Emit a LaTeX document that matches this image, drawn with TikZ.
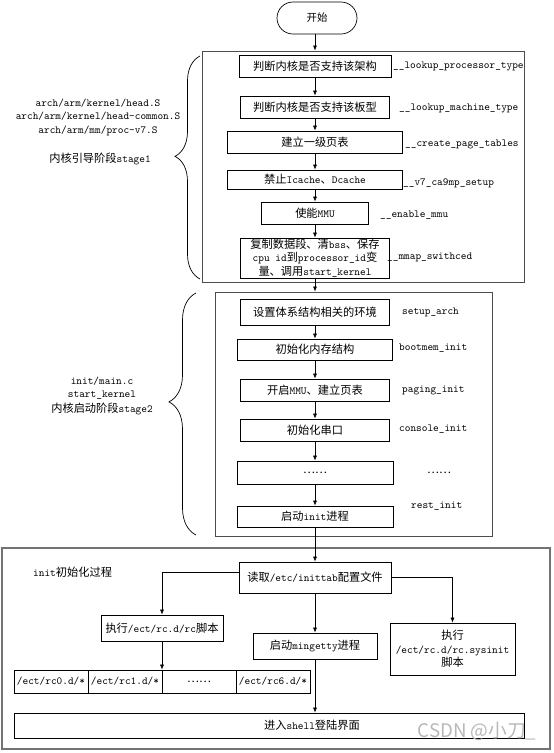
\documentclass[tikz,border=0pt]{standalone}
\usepackage{fontspec}
\newfontfamily\cjk{Noto Sans CJK SC}[Scale=1.04]
\usetikzlibrary{arrows.meta,decorations.pathreplacing}

\tikzset{
	box/.style={draw, line width=0.7pt, inner sep=1pt, minimum height=22pt, align=center, font=\ttfamily\fontsize{10.8}{13.5}\selectfont},
	frame/.style={draw=black!70, line width=1pt, inner sep=0pt},
	code/.style={anchor=west, inner sep=0pt, font=\ttfamily\fontsize{10.8}{13}\selectfont},
	note/.style={inner sep=0pt, align=center, font=\ttfamily\fontsize{10.8}{13.5}\selectfont},
	arr/.style={-{Latex[length=5pt,width=4pt]}, line width=0.6pt},
	curly/.style={decorate, decoration={brace, amplitude=#1, aspect=0.55}, line width=0.7pt}
}

\begin{document}
\begin{tikzpicture}[x=1pt,y=-1pt]
		\useasboundingbox (0,0) rectangle (554,753);
		% stage1
		\node[draw, line width=0.7pt, rounded corners=16pt, minimum width=80pt, minimum height=32pt] (start) at (317,18) {\cjk 开始};
		\node[frame, minimum width=322pt, minimum height=231pt] (s1) at (363,166.5) {};
		\node[box, minimum width=152pt] (b1) at (315,66) {{\cjk 判断内核是否支持该架构}};
		\node[box, minimum width=149pt] (b2) at (315,107) {{\cjk 判断内核是否支持该板型}};
		\node[box, minimum width=175pt] (b3) at (315,142) {{\cjk 建立一级页表}};
		\node[box, minimum width=175pt, minimum height=19pt] (b4) at (315,179.5) {{\cjk 禁止}Icache{\cjk 、}Dcache};
		\node[box, minimum width=107pt] (b5) at (315,213) {{\cjk 使能}MMU};
		\node[box, minimum width=149pt, minimum height=40pt, inner sep=0pt] (b6) at (315,258) {{\cjk 复制数据段、清}bss{\cjk 、保存}\\cpu id{\cjk 到}processor\_id{\cjk 变}\\{\cjk 量、调用}start\_kernel};
		\foreach \t/\x/\y [count=\i] in {\_\_lookup\_processor\_type/393/66, \_\_lookup\_machine\_type/399/108, \_\_create\_page\_tables/405/144, \_\_v7\_ca9mp\_setup/403/183, \_\_enable\_mmu/380/215, \_\_mmap\_swithced/387/257}{
		\node[code] (l-\i) at (\x,\y) {\t};
		}
		\draw[curly=25pt] (200,279) -- (200,56);
		\node[note] (src1) at (98,117) {arch/arm/kernel/head.S\\arch/arm/kernel/head-common.S\\arch/arm/mm/proc-v7.S};
		\node[note] (st1) at (100,159) {{\cjk 内核引导阶段}stage1};
		% stage2
		\node[frame, minimum width=277pt, minimum height=244pt] (s2) at (353.5,414) {};
		\node[box, minimum width=149pt, minimum height=26pt] (k1) at (315,312) {{\cjk 设置体系结构相关的环境}};
		\node[box, minimum width=155pt, minimum height=21pt] (k2) at (315,349.5) {{\cjk 初始化内存结构}};
		\node[box, minimum width=149pt] (k3) at (315,390) {{\cjk 开启}MMU{\cjk 、建立页表}};
		\node[box, minimum width=149pt] (k4) at (315,430) {{\cjk 初始化串口}};
		\node[box, minimum width=156pt, minimum height=23pt] (k5) at (315,472.5) {{\cjk ……}};
		\node[box, minimum width=156pt, minimum height=21pt] (k6) at (315,516.5) {{\cjk 启动}init{\cjk 进程}};
		\foreach \t/\x/\y [count=\i] in {setup\_arch/402/312, bootmem\_init/399/348, paging\_init/402/390, console\_init/399/429, {\cjk ……}/427/473, rest\_init/411/506}{
		\node[code] (m-\i) at (\x,\y) {\t};
		}
		\draw[curly=27pt] (196,535) -- (196,293);
		\node[note, font=\ttfamily\fontsize{10.8}{12.5}\selectfont] (src2) at (102,388) {init/main.c\\start\_kernel};
		\node[note] (st2) at (102,409) {{\cjk 内核启动阶段}stage2};
		% init
		\node[frame, draw=black!55, line width=1.4pt, minimum width=548pt, minimum height=201pt] (s3) at (276,648.5) {};
		\node[code] (s3t) at (33,572) {init{\cjk 初始化过程}};
		\node[box, minimum width=152pt, minimum height=31pt] (r) at (315,577.5) {{\cjk 读取}/etc/inittab{\cjk 配置文件}};
		\node[box, minimum width=122pt, minimum height=26pt] (rc) at (162,628) {{\cjk 执行}/ect/rc.d/rc{\cjk 脚本}};
		\node[box, minimum width=124pt, minimum height=26pt] (mg) at (315,646) {{\cjk 启动}mingetty{\cjk 进程}};
		\node[box, minimum width=125pt, minimum height=52pt] (sy) at (452.5,649) {{\cjk 执行}\\/ect/rc.d/rc.sysinit\\{\cjk 脚本}};
		\foreach \t [count=\i] in {/ect/rc0.d/*, /ect/rc1.d/*, {\cjk ……}, /ect/rc6.d/*}{
		\node[box, minimum width=74pt, minimum height=23pt] (rc-\i) at ({51+74*(\i-1)},681.5) {\t};
		}
		\node[box, minimum width=510pt, minimum height=25pt] (sh) at (269,725.5) {};
		\node[note] (sht) at (312,725) {{\cjk 进入}shell{\cjk 登陆界面}};
		\node[inner sep=0pt, text=black!28, font=\cjk\fontsize{18}{18}\selectfont] (mark) at (477,731) {CSDN @小刀\_};
		% arrows
		\draw[arr] (b1 |- start.south) -- (b1 |- s1.north);
		\foreach \a/\b in {b1/b2, b2/b3, b3/b4, b4/b5, b5/b6, k1/k2, k2/k3, k3/k4, k4/k5, k5/k6, k6/r, r/mg}{
		\draw[arr] (\a) -- (\b);
		}
		\draw[arr] (b6) -- (b6 |- s2.north);
		\draw[arr] ([yshift=5.5pt]r.west) -| (rc);
		\draw[arr] (r) -| (sy);
		\draw[arr] (rc) -- (rc |- rc-2.north);
		\draw[arr] (mg) -- (mg |- sh.north);
		\end{tikzpicture}
\end{document}
